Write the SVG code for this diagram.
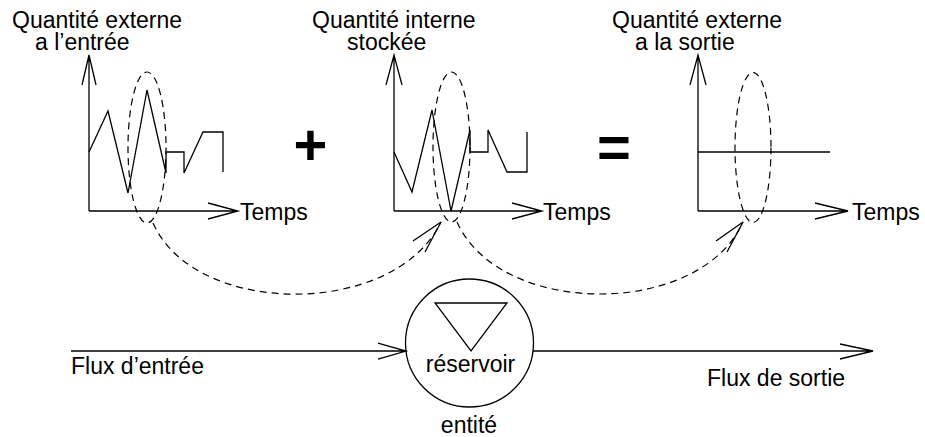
<svg xmlns="http://www.w3.org/2000/svg" width="925" height="437" viewBox="0 0 925 437">
<style>
.ln{fill:none;stroke:#000;stroke-width:1.3}
.ds{fill:none;stroke:#000;stroke-width:1.2;stroke-dasharray:7 5}
.tx{font-family:"Liberation Sans",Arial,sans-serif;font-size:23px;fill:#000}
.op{font-family:"Liberation Sans",Arial,sans-serif;font-size:58px;font-weight:bold;fill:#000;text-anchor:middle}
</style>
<rect width="925" height="437" fill="#fff"/>
<g id="chart-entree">
<text class="tx" x="12" y="28">Quantité externe</text>
<text class="tx" x="35" y="50">a l’entrée</text>
<path class="ln" d="M89,211V55M82,85L89,55L96,85M89,211H238M208,203L238,211L208,219"/>
<polyline class="ln" points="89,152 108,111 128,193 147,90 166,173 166,152 184,152 184,173 203,132 223,132 223,172"/>
<ellipse class="ds" cx="147" cy="147.5" rx="19" ry="75.5"/>
<text class="tx" x="240" y="220">Temps</text>
</g>
<g id="plus"><text class="op" x="310.5" y="165">+</text></g>
<g id="chart-stock">
<text class="tx" x="312" y="28">Quantité interne</text>
<text class="tx" x="347" y="50">stockée</text>
<path class="ln" d="M394,211V55M386,85L394,55L402,85M394,211H542M512,203L542,211L512,219"/>
<polyline class="ln" points="394,152 412,192 432,110 451,211 470,130 470,152 488,152 488,130 507,172 527,172 527,132"/>
<ellipse class="ds" cx="451.5" cy="147" rx="18.5" ry="75"/>
<text class="tx" x="543" y="220">Temps</text>
</g>
<g id="egal"><text class="op" x="614" y="167">=</text></g>
<g id="chart-sortie">
<text class="tx" x="612" y="28">Quantité externe</text>
<text class="tx" x="635" y="50">a la sortie</text>
<path class="ln" d="M698,211V55M690,85L698,55L706,85M698,211H848M815,203L848,211L815,219"/>
<path class="ln" d="M698,152H830"/>
<ellipse class="ds" cx="753" cy="147.5" rx="18" ry="75"/>
<text class="tx" x="852" y="220">Temps</text>
</g>
<g id="reservoir">
<circle class="ln" cx="469.5" cy="343" r="64"/>
<polygon class="ln" points="435,303 507,303 471,351"/>
<text class="tx" x="470.5" y="372" text-anchor="middle">réservoir</text>
<text class="tx" x="469" y="433" text-anchor="middle">entité</text>
</g>
<g id="connectors">
<path class="ds" d="M153,223C195,318 395,318 441,222"/>
<path class="ln" d="M413,241L441,222L425,252"/>
<path class="ds" d="M457,222C500,318 700,318 743,222"/>
<path class="ln" d="M716,241L743,222L727,252"/>
<path class="ln" d="M71,351H406M378,343L406,351L378,359"/>
<path class="ln" d="M533,351H873M840,344L873,351L840,359"/>
<text class="tx" x="71" y="374">Flux d’entrée</text>
<text class="tx" x="707" y="386">Flux de sortie</text>
</g>
</svg>
